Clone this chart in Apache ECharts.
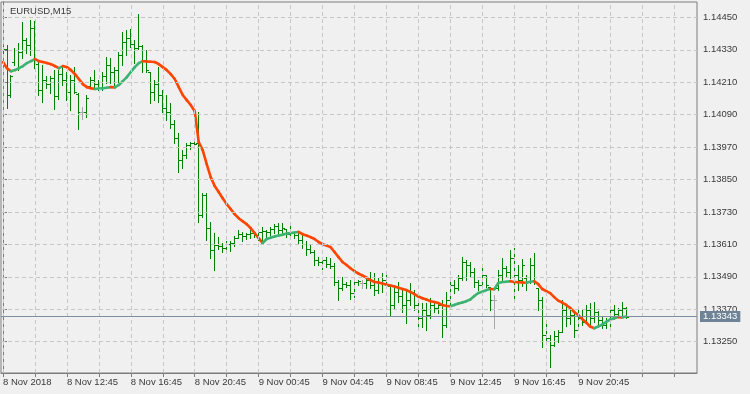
<!DOCTYPE html>
<html><head><meta charset="utf-8">
<script src="https://cdn.jsdelivr.net/npm/echarts@6/dist/echarts.min.js"></script>
<style>html,body{margin:0;padding:0;background:#f0f0f0}#c{width:750px;height:394px}</style>
</head><body><div id="c"></div>
<script>
const symbolTitle = 'EURUSD,M15';

// M15 bars, 8 Nov 2018 08:45 .. 9 Nov 2018 23:45 (bar index 0..156)
const open = [1.14329,1.14333,1.14163,1.14285,1.14329,1.14322,1.14366,1.14348,1.14410,1.14277,
1.14181,1.14218,1.14203,1.14225,1.14159,1.14240,1.14218,1.14174,1.14218,1.14166,
1.14100,1.14100,1.14196,1.14218,1.14203,1.14211,1.14233,1.14274,1.14248,1.14255,
1.14311,1.14359,1.14373,1.14351,1.14336,1.14344,1.14292,1.14248,1.14174,1.14203,
1.14163,1.14114,1.14100,1.14055,1.14003,1.13922,1.13941,1.13978,1.13985,1.13985,
1.13719,1.13793,1.13670,1.13589,1.13608,1.13604,1.13597,1.13611,1.13615,1.13633,
1.13648,1.13641,1.13648,1.13652,1.13645,1.13656,1.13659,1.13656,1.13667,1.13678,
1.13663,1.13667,1.13648,1.13652,1.13645,1.13626,1.13611,1.13593,1.13582,1.13552,
1.13545,1.13552,1.13537,1.13530,1.13471,1.13448,1.13463,1.13460,1.13430,1.13471,
1.13467,1.13467,1.13478,1.13460,1.13441,1.13471,1.13478,1.13456,1.13386,1.13434,
1.13419,1.13386,1.13404,1.13434,1.13386,1.13337,1.13367,1.13349,1.13386,1.13374,
1.13386,1.13312,1.13404,1.13460,1.13448,1.13485,1.13545,1.13534,1.13508,1.13471,
1.13460,1.13497,1.13452,1.13404,1.13448,1.13497,1.13522,1.13508,1.13559,1.13497,
1.13478,1.13485,1.13471,1.13534,1.13448,1.13404,1.13275,1.13263,1.13238,1.13271,
1.13286,1.13367,1.13337,1.13349,1.13293,1.13337,1.13323,1.13367,1.13337,1.13360,
1.13330,1.13312,1.13330,1.13367,1.13352,1.13367,1.13374];

const high = [1.14344,1.14348,1.14237,1.14336,1.14355,1.14433,1.14373,1.14440,1.14436,1.14285,
1.14274,1.14233,1.14233,1.14255,1.14255,1.14266,1.14248,1.14237,1.14266,1.14170,
1.14118,1.14163,1.14229,1.14255,1.14218,1.14248,1.14303,1.14299,1.14266,1.14322,
1.14396,1.14403,1.14407,1.14366,1.14462,1.14348,1.14329,1.14248,1.14218,1.14266,
1.14181,1.14163,1.14133,1.14070,1.14022,1.13959,1.13985,1.13989,1.13996,1.14100,
1.13800,1.13800,1.13693,1.13652,1.13637,1.13615,1.13622,1.13622,1.13641,1.13663,
1.13656,1.13652,1.13663,1.13656,1.13659,1.13674,1.13663,1.13674,1.13685,1.13689,
1.13689,1.13667,1.13693,1.13656,1.13656,1.13645,1.13622,1.13608,1.13589,1.13563,
1.13563,1.13563,1.13559,1.13541,1.13478,1.13489,1.13471,1.13478,1.13485,1.13478,
1.13478,1.13489,1.13508,1.13504,1.13485,1.13504,1.13504,1.13460,1.13460,1.13471,
1.13448,1.13441,1.13467,1.13441,1.13404,1.13393,1.13393,1.13411,1.13397,1.13397,
1.13404,1.13434,1.13485,1.13478,1.13497,1.13563,1.13552,1.13545,1.13522,1.13478,
1.13522,1.13497,1.13452,1.13423,1.13515,1.13559,1.13530,1.13589,1.13597,1.13534,
1.13556,1.13497,1.13559,1.13578,1.13448,1.13415,1.13323,1.13275,1.13289,1.13293,
1.13404,1.13386,1.13378,1.13356,1.13371,1.13367,1.13386,1.13393,1.13397,1.13363,
1.13341,1.13337,1.13378,1.13386,1.13374,1.13397,1.13378];

const low = [1.14314,1.14114,1.14155,1.14274,1.14255,1.14299,1.14318,1.14311,1.14262,1.14163,
1.14137,1.14188,1.14170,1.14111,1.14148,1.14200,1.14144,1.14107,1.14170,1.14037,
1.14074,1.14081,1.14188,1.14188,1.14181,1.14181,1.14207,1.14207,1.14200,1.14211,
1.14274,1.14311,1.14340,1.14281,1.14333,1.14248,1.14248,1.14133,1.14144,1.14137,
1.14100,1.14070,1.14040,1.13985,1.13878,1.13892,1.13929,1.13963,1.13967,1.13693,
1.13711,1.13626,1.13559,1.13515,1.13593,1.13582,1.13585,1.13585,1.13604,1.13633,
1.13622,1.13630,1.13633,1.13637,1.13626,1.13619,1.13637,1.13645,1.13652,1.13645,
1.13652,1.13637,1.13637,1.13633,1.13615,1.13597,1.13571,1.13578,1.13534,1.13534,
1.13519,1.13526,1.13522,1.13460,1.13404,1.13441,1.13452,1.13408,1.13415,1.13460,
1.13448,1.13448,1.13448,1.13423,1.13430,1.13434,1.13460,1.13349,1.13374,1.13397,
1.13360,1.13319,1.13386,1.13367,1.13297,1.13304,1.13293,1.13337,1.13360,1.13356,
1.13267,1.13304,1.13378,1.13430,1.13441,1.13478,1.13478,1.13489,1.13452,1.13441,
1.13460,1.13452,1.13367,1.13300,1.13441,1.13478,1.13493,1.13485,1.13404,1.13441,
1.13456,1.13441,1.13467,1.13463,1.13367,1.13230,1.13249,1.13156,1.13234,1.13249,
1.13286,1.13308,1.13315,1.13267,1.13293,1.13312,1.13323,1.13308,1.13323,1.13315,
1.13300,1.13300,1.13293,1.13334,1.13345,1.13349,1.13337];

const close = [1.14333,1.14163,1.14233,1.14329,1.14322,1.14366,1.14348,1.14410,1.14277,1.14181,
1.14218,1.14203,1.14225,1.14159,1.14240,1.14218,1.14174,1.14218,1.14174,1.14100,
1.14100,1.14151,1.14218,1.14203,1.14211,1.14233,1.14274,1.14248,1.14255,1.14311,
1.14359,1.14373,1.14351,1.14336,1.14344,1.14292,1.14255,1.14174,1.14203,1.14163,
1.14114,1.14100,1.14055,1.14003,1.13922,1.13941,1.13978,1.13985,1.13981,1.13719,
1.13793,1.13670,1.13589,1.13608,1.13604,1.13597,1.13611,1.13615,1.13633,1.13648,
1.13641,1.13648,1.13652,1.13645,1.13656,1.13659,1.13656,1.13667,1.13678,1.13663,
1.13670,1.13648,1.13652,1.13645,1.13626,1.13611,1.13593,1.13582,1.13552,1.13545,
1.13552,1.13537,1.13530,1.13471,1.13448,1.13463,1.13460,1.13430,1.13471,1.13474,
1.13467,1.13478,1.13460,1.13441,1.13471,1.13478,1.13463,1.13386,1.13434,1.13419,
1.13386,1.13404,1.13434,1.13386,1.13337,1.13367,1.13349,1.13386,1.13374,1.13386,
1.13312,1.13404,1.13460,1.13448,1.13485,1.13545,1.13534,1.13508,1.13471,1.13460,
1.13497,1.13460,1.13404,1.13404,1.13497,1.13522,1.13508,1.13559,1.13497,1.13478,
1.13534,1.13471,1.13534,1.13471,1.13404,1.13275,1.13263,1.13238,1.13271,1.13286,
1.13367,1.13337,1.13349,1.13293,1.13337,1.13323,1.13367,1.13337,1.13360,1.13330,
1.13312,1.13330,1.13367,1.13352,1.13367,1.13374,1.13343];

// moving average (green while rising, orange-red while falling)
const ma = [1.14285,1.14262,1.14251,1.14255,1.14262,1.14270,1.14281,1.14288,1.14296,1.14288,
1.14285,1.14281,1.14277,1.14270,1.14262,1.14270,1.14266,1.14255,1.14240,1.14222,
1.14203,1.14192,1.14188,1.14185,1.14187,1.14188,1.14190,1.14192,1.14191,1.14200,
1.14214,1.14229,1.14248,1.14266,1.14281,1.14288,1.14287,1.14286,1.14285,1.14277,
1.14266,1.14255,1.14240,1.14222,1.14192,1.14163,1.14144,1.14126,1.14103,1.13989,
1.13959,1.13907,1.13859,1.13826,1.13804,1.13781,1.13759,1.13741,1.13722,1.13707,
1.13696,1.13685,1.13670,1.13652,1.13633,1.13615,1.13630,1.13635,1.13639,1.13643,
1.13646,1.13650,1.13652,1.13654,1.13656,1.13648,1.13643,1.13637,1.13630,1.13619,
1.13611,1.13606,1.13600,1.13582,1.13563,1.13545,1.13534,1.13522,1.13511,1.13502,
1.13495,1.13487,1.13478,1.13471,1.13469,1.13465,1.13461,1.13458,1.13454,1.13450,
1.13445,1.13441,1.13434,1.13426,1.13417,1.13411,1.13406,1.13400,1.13397,1.13393,
1.13386,1.13382,1.13381,1.13386,1.13391,1.13395,1.13400,1.13406,1.13419,1.13430,
1.13435,1.13441,1.13445,1.13444,1.13467,1.13471,1.13472,1.13474,1.13471,1.13470,
1.13469,1.13468,1.13472,1.13474,1.13463,1.13445,1.13437,1.13430,1.13415,1.13402,
1.13395,1.13386,1.13375,1.13360,1.13349,1.13334,1.13321,1.13306,1.13300,1.13306,
1.13313,1.13323,1.13332,1.13337,1.13341,1.13340,1.13343];

// axis ticks
const xLabelIdx = [0,16,32,48,64,80,96,112,128,144];
const xLabels = ['8 Nov 2018','8 Nov 12:45','8 Nov 16:45','8 Nov 20:45','9 Nov 00:45','9 Nov 04:45','9 Nov 08:45','9 Nov 12:45','9 Nov 16:45','9 Nov 20:45'];
const xGridIdx = [0,8,16,24,32,40,48,56,64,72,80,88,96,104,112,120,128,136,144,152,160,168];
const yTicks = [1.13250,1.13370,1.13490,1.13610,1.13730,1.13850,1.13970,1.14090,1.14210,1.14330,1.14450];

const FONT = 'Liberation Sans';
const TXT = '#3a3a3a';
const BAR_COLOR = '#008000';
const DOJI_COLOR = '#a8a8a8';
const UP_COLOR = '#3cb371';
const DOWN_COLOR = '#ff4500';

const chart = echarts.init(document.getElementById('c'), null, {renderer: 'canvas', width: 750, height: 394});
const barData = close.map((c, i) => [i, open[i], high[i], low[i], c]);
const maData = [];
for (let i = 1; i < ma.length; i++) maData.push([i - 1, i, ma[i - 1], ma[i]]);
const lastPrice = close[close.length - 1];
const gridLine = {color: '#c6c6c6', type: [4, 3], width: 1};

const option = {
  animation: false,
  backgroundColor: '#f0f0f0',
  title: {text: symbolTitle, left: 5, top: 1,
    textStyle: {fontFamily: FONT, fontSize: 9.5, fontWeight: 'normal', color: TXT}},
  grid: {left: 0, top: 2, right: 53, bottom: 21, show: true, borderColor: '#7c7c7c', borderWidth: 1},
  xAxis: {
    type: 'value', min: -0.5, max: 173.75,
    axisLine: {show: true, lineStyle: {color: '#7c7c7c'}},
    axisTick: {show: true, customValues: xGridIdx, length: 4, lineStyle: {color: '#7c7c7c'}},
    axisLabel: {customValues: xLabelIdx, formatter: v => xLabels[xLabelIdx.indexOf(v)],
      align: 'left', margin: 4, fontFamily: FONT, fontSize: 9.5, color: TXT},
    splitLine: {show: false}
  },
  yAxis: {
    type: 'value', position: 'right', min: 1.131342, max: 1.14507,
    axisLine: {show: true, lineStyle: {color: '#7c7c7c'}},
    axisTick: {show: true, customValues: yTicks, length: 4, lineStyle: {color: '#7c7c7c'}},
    axisLabel: {customValues: yTicks, formatter: v => v.toFixed(5), margin: 6,
      fontFamily: FONT, fontSize: 9.5, color: TXT},
    splitLine: {show: false}
  },
  series: [
    {
      name: 'grid', type: 'line', z: 1, silent: true,
      data: close.map((c, i) => [i, c]), showSymbol: false,
      lineStyle: {opacity: 0},
      markLine: {
        silent: true, symbol: 'none', animation: false, precision: 6,
        data: [
          ...yTicks.map(v => ({yAxis: v, lineStyle: gridLine, label: {show: false}})),
          ...xGridIdx.map(v => ({xAxis: v, lineStyle: gridLine, label: {show: false}})),
          {yAxis: lastPrice, lineStyle: {color: '#7d8fa1', type: 'solid', width: 1},
           label: {show: true, position: 'end', distance: 3, formatter: lastPrice.toFixed(5),
             color: '#ffffff', backgroundColor: '#6f8396', padding: [1, 3, 0, 3],
             fontFamily: FONT, fontSize: 9.5}}
        ]
      }
    },
    {
      name: 'bars', type: 'custom', z: 3,
      data: barData,
      encode: {x: 0, y: [1, 2, 3, 4]},
      renderItem: (params, api) => {
        const i = api.value(0);
        const o = api.coord([i, api.value(1)]);
        const h = api.coord([i, api.value(2)]);
        const l = api.coord([i, api.value(3)]);
        const c = api.coord([i, api.value(4)]);
        const col = Math.floor(o[0] + 0.01);
        const cx = col + 0.5;
        const color = api.value(1) === api.value(4) ? DOJI_COLOR : BAR_COLOR;
        const top = Math.round(h[1]);
        const bot = Math.round(l[1]) + 1;
        const oy = Math.round(o[1]) + 0.5;
        const cy = Math.round(c[1]) + 0.5;
        const st = {stroke: color, lineWidth: 1};
        return {type: 'group', children: [
          {type: 'line', shape: {x1: cx, y1: top, x2: cx, y2: bot}, style: st},
          {type: 'line', shape: {x1: col - 2, y1: oy, x2: col, y2: oy}, style: st},
          {type: 'line', shape: {x1: col + 1, y1: cy, x2: col + 3, y2: cy}, style: st}
        ]};
      }
    },
    {
      name: 'MA', type: 'custom', z: 4,
      data: maData,
      encode: {x: [0, 1], y: [2, 3]},
      renderItem: (params, api) => {
        const a = api.coord([api.value(0), api.value(2)]);
        const b = api.coord([api.value(1), api.value(3)]);
        const up = api.value(3) >= api.value(2);
        return {type: 'line', shape: {x1: a[0], y1: a[1], x2: b[0], y2: b[1]},
          style: {stroke: up ? UP_COLOR : DOWN_COLOR, lineWidth: 2.6, lineCap: 'round'}};
      }
    }
  ]
};
chart.setOption(option);
</script>
</body></html>
